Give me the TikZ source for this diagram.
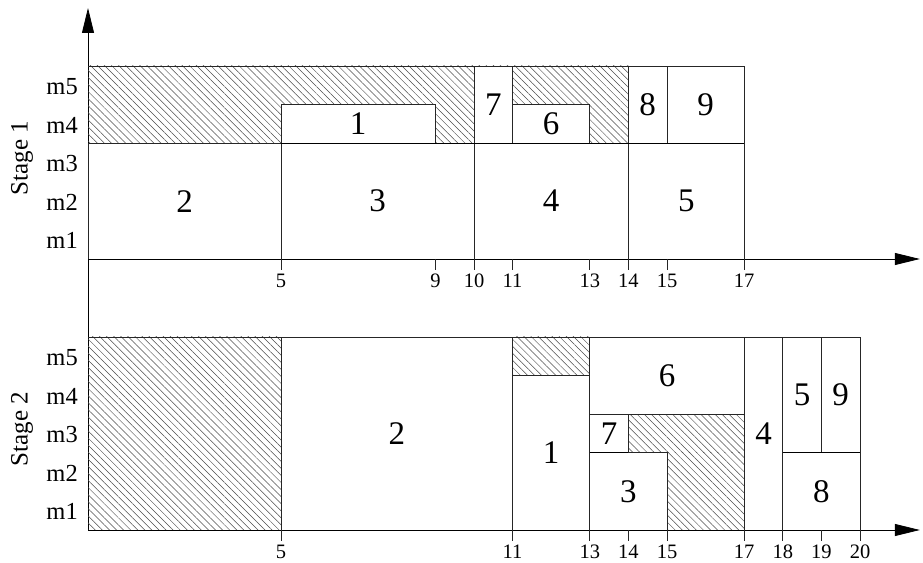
\documentclass[tikz,border=0pt]{standalone}
\usepackage{fontspec}
\setmainfont{Liberation Serif}
\usetikzlibrary{arrows.meta,patterns.meta}
\tikzset{
  job/.style={draw=black!85, line width=0.75pt, fill=white},
  idle/.style={pattern={Lines[angle=-45,distance=5pt,line width=0.5pt]}, pattern color=black!70},
  edge/.style={draw=black!85, line width=0.75pt},
  heavy/.style={draw=black, line width=1.3pt},
  joblabel/.style={font=\fontsize{33}{33}\selectfont, inner sep=0pt},
  mlabel/.style={font=\fontsize{24.5}{24.5}\selectfont, inner sep=0pt, anchor=east},
  stagelabel/.style={font=\fontsize{25}{25}\selectfont, inner sep=0pt, rotate=90},
  ticklabel/.style={font=\fontsize{20.5}{20.5}\selectfont, inner sep=0pt, anchor=north,
    text height=14pt, text depth=0pt, yshift=-3pt},
  axis/.style={draw=black, line width=0.8pt, -{Triangle[length=25pt,width=12pt]}},
  tickmark/.style={draw=black!85, line width=0.75pt}
}
\begin{document}
\begin{tikzpicture}
\useasboundingbox (0,0) rectangle (923pt,562pt);
% vertical axis
\coordinate (ybot) at (88pt,32pt);
\coordinate (ytop) at (88pt,554pt);
\draw[axis] (ybot) -- (ytop);

% ---------------- Stage 1 ----------------
\begin{scope}[shift={(88pt,303pt)}, x=38.6pt, y=38.6pt]
  \fill[idle] (0,3) rectangle (14,5);
  \draw[edge] (0,5) -- (14,5);
  \draw[job] (0,0) rectangle (5,3);
  \draw[job] (5,0) rectangle (10,3);
  \draw[job] (5,3) rectangle (9,4);
  \draw[job] (10,3) rectangle (11,5);
  \draw[job] (11,3) rectangle (13,4);
  \draw[job] (10,0) rectangle (14,3);
  \draw[job] (14,3) rectangle (15,5);
  \draw[job] (15,3) rectangle (17,5);
  \draw[job] (14,0) rectangle (17,3);
  \draw[heavy] (5,3) -- (17,3);
  \node[joblabel] (sa2) at (2.5,1.5) {2};
  \node[joblabel] (sa3) at (7.5,1.5) {3};
  \node[joblabel] (sa1) at (7,3.5) {1};
  \node[joblabel] (sa7) at (10.5,4) {7};
  \node[joblabel] (sa6) at (12,3.5) {6};
  \node[joblabel] (sa4) at (12,1.5) {4};
  \node[joblabel] (sa8) at (14.5,4) {8};
  \node[joblabel] (sa9) at (16,4) {9};
  \node[joblabel] (sa5) at (15.5,1.5) {5};
  \coordinate (o1) at (0,0);
  \coordinate (e1) at (21.55,0);
  \draw[axis] (o1) -- (e1);
  \foreach \t in {5,9,10,11,13,14,15,17} {
    \coordinate (ta\t) at (\t,0);
    \draw[tickmark] (ta\t) -- ++(0pt,-11pt) node[ticklabel] (la\t) {\t};
  }
  \foreach \r in {1,...,5} {
    \node[mlabel] (ma\r) at (-0.26,\r-0.53) {m\r};
  }
  \node[stagelabel] (st1) at (-1.71,2.62) {Stage 1};
\end{scope}

% ---------------- Stage 2 ----------------
\begin{scope}[shift={(88pt,32pt)}, x=38.6pt, y=38.6pt]
  \fill[idle] (0,0) rectangle (5,5);
  \fill[idle] (11,4) rectangle (13,5);
  \fill[idle] (14,2) rectangle (17,3);
  \fill[idle] (15,0) rectangle (17,2);
  \draw[edge] (0,5) -- (13,5);
  \draw[job] (5,0) rectangle (11,5);
  \draw[job] (11,0) rectangle (13,4);
  \draw[job] (13,3) rectangle (17,5);
  \draw[job] (13,2) rectangle (14,3);
  \draw[job] (13,0) rectangle (15,2);
  \draw[job] (17,0) rectangle (18,5);
  \draw[job] (18,2) rectangle (19,5);
  \draw[job] (19,2) rectangle (20,5);
  \draw[job] (18,0) rectangle (20,2);
  \draw[heavy] (18,2) -- (20,2);
  \draw[heavy] (13,2) -- (14,2);
  \node[joblabel] (sb2) at (8,2.5) {2};
  \node[joblabel] (sb1) at (12,2) {1};
  \node[joblabel] (sb6) at (15,4) {6};
  \node[joblabel] (sb7) at (13.5,2.5) {7};
  \node[joblabel] (sb3) at (14,1) {3};
  \node[joblabel] (sb4) at (17.5,2.5) {4};
  \node[joblabel] (sb5) at (18.5,3.5) {5};
  \node[joblabel] (sb9) at (19.5,3.5) {9};
  \node[joblabel] (sb8) at (19,1) {8};
  \coordinate (o2) at (0,0);
  \coordinate (e2) at (21.55,0);
  \draw[axis] (o2) -- (e2);
  \foreach \t in {5,11,13,14,15,17,18,19,20} {
    \coordinate (tb\t) at (\t,0);
    \draw[tickmark] (tb\t) -- ++(0pt,-11pt) node[ticklabel] (lb\t) {\t};
  }
  \foreach \r in {1,...,5} {
    \node[mlabel] (mb\r) at (-0.26,\r-0.53) {m\r};
  }
  \node[stagelabel] (st2) at (-1.71,2.62) {Stage 2};
\end{scope}
\end{tikzpicture}
\end{document}
